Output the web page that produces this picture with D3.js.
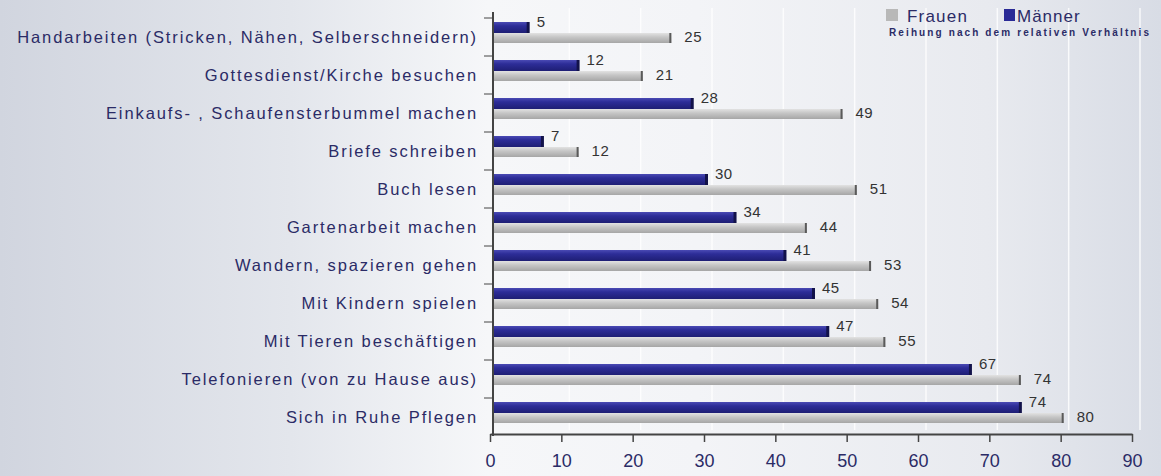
<!DOCTYPE html>
<html><head><meta charset="utf-8">
<script src="https://cdn.jsdelivr.net/npm/d3@7/dist/d3.min.js"></script>
<style>body{margin:0;overflow:hidden;}svg{display:block;}</style>
</head><body>
<script>
const categories = ["Handarbeiten (Stricken, Nähen, Selberschneidern)","Gottesdienst/Kirche besuchen","Einkaufs- , Schaufensterbummel machen","Briefe schreiben","Buch lesen","Gartenarbeit machen","Wandern, spazieren gehen","Mit Kindern spielen","Mit Tieren beschäftigen","Telefonieren (von zu Hause aus)","Sich in Ruhe Pflegen"];
const maenner = [5,12,28,7,30,34,41,45,47,67,74];
const frauen = [25,21,49,12,51,44,53,54,55,74,80];
const xTicks = [0,10,20,30,40,50,60,70,80,90];
const seriesNames = ["Frauen","Männer"];
const subtitle = "Reihung nach dem relativen Verhältnis";

const W=1161,H=476, FONT="Liberation Sans, Arial, sans-serif", TXT="#2b2b66";
const svg=d3.select("body").append("svg").attr("width",W).attr("height",H);
const defs=svg.append("defs");
const bg=defs.append("linearGradient").attr("id","bg").attr("x1","0").attr("x2","1").attr("y1","0").attr("y2","0");
[["0","#d1d5df"],["0.25","#e3e6ec"],["0.42","#f6f7f9"],["0.6","#f3f4f7"],["0.85","#e8eaef"],["1","#d8dce5"]]
 .forEach(s=>bg.append("stop").attr("offset",s[0]).attr("stop-color",s[1]));
svg.append("rect").attr("width",W).attr("height",H).attr("fill","url(#bg)");

const gm=defs.append("linearGradient").attr("id","gm").attr("x1","0").attr("x2","0").attr("y1","0").attr("y2","1");
[["0","#4a4ab4"],["0.35","#2d2d98"],["1","#1e1e74"]].forEach(s=>gm.append("stop").attr("offset",s[0]).attr("stop-color",s[1]));
const gf=defs.append("linearGradient").attr("id","gf").attr("x1","0").attr("x2","0").attr("y1","0").attr("y2","1");
[["0","#e2e2e2"],["0.4","#c6c6c6"],["1","#a6a6a6"]].forEach(s=>gf.append("stop").attr("offset",s[0]).attr("stop-color",s[1]));

const x=d3.scaleLinear().domain([0,90]).range([490,1132]);
const y=d3.scaleBand().domain(categories).range([18,436]);
const depth=3;

// gridlines (3D back wall)
svg.append("g").selectAll("line").data(xTicks.slice(1)).join("line")
 .attr("x1",d=>x(d)+8).attr("x2",d=>x(d)+8).attr("y1",8).attr("y2",430)
 .attr("stroke","#ffffff").attr("stroke-opacity",0.8).attr("stroke-width",1.5);

const rows=svg.append("g").selectAll("g.row").data(categories).join("g").attr("class","row");
// men bars
rows.append("rect").attr("x",x(0)+depth).attr("y",d=>y(d)+4)
 .attr("width",(d,i)=>x(maenner[i])-x(0)).attr("height",11).attr("fill","url(#gm)");
rows.append("rect").attr("x",(d,i)=>x(maenner[i])+depth-2).attr("y",d=>y(d)+4)
 .attr("width",3).attr("height",11).attr("fill","#12124a");
// women bars
rows.append("rect").attr("x",x(0)+depth).attr("y",d=>y(d)+15)
 .attr("width",(d,i)=>x(frauen[i])-x(0)).attr("height",10).attr("fill","url(#gf)");
rows.append("rect").attr("x",(d,i)=>x(frauen[i])+depth-2).attr("y",d=>y(d)+15)
 .attr("width",2).attr("height",10).attr("fill","#5a5a5a");
// value labels
rows.append("text").attr("x",(d,i)=>x(maenner[i])+depth+8).attr("y",d=>y(d)+9)
 .text((d,i)=>maenner[i]).attr("font-family",FONT).attr("font-size",15).attr("letter-spacing",0.5).attr("fill","#333");
rows.append("text").attr("x",(d,i)=>x(frauen[i])+depth+13).attr("y",d=>y(d)+24)
 .text((d,i)=>frauen[i]).attr("font-family",FONT).attr("font-size",15).attr("letter-spacing",0.5).attr("fill","#333");

// y axis
const yAx=svg.append("g").attr("transform","translate(493,0)");
yAx.append("line").attr("x1",0).attr("x2",0).attr("y1",12).attr("y2",436).attr("stroke","#444").attr("stroke-width",2);
yAx.selectAll("line.t").data(categories).join("line").attr("class","t")
 .attr("x1",-9).attr("x2",0).attr("y1",d=>y(d)).attr("y2",d=>y(d)).attr("stroke","#444");
svg.append("g").selectAll("text").data(categories).join("text")
 .attr("x",478).attr("y",d=>y(d)+y.bandwidth()/2+6).attr("text-anchor","end")
 .attr("font-family",FONT).attr("font-size",16.5).attr("letter-spacing",1.9).attr("fill",TXT).text(d=>d);

// x axis
const xAx=svg.append("g").attr("transform","translate(0,434)")
 .call(d3.axisBottom(x).tickValues(xTicks).tickSize(8).tickPadding(12).tickSizeOuter(0));
xAx.select(".domain").attr("stroke","#444").attr("stroke-width",2);
xAx.selectAll(".tick line").attr("stroke","#444").attr("stroke-width",1.5);
xAx.selectAll("text").attr("font-family",FONT).attr("font-size",18).attr("fill",TXT);

// legend
const lg=svg.append("g");
lg.append("rect").attr("x",886).attr("y",9).attr("width",12).attr("height",12).attr("fill","#b8b8b8");
lg.append("text").attr("x",907).attr("y",22).text(seriesNames[0]).attr("font-family",FONT).attr("font-size",17).attr("letter-spacing",1.2).attr("fill",TXT);
lg.append("rect").attr("x",1004).attr("y",9).attr("width",11).attr("height",12).attr("fill","#2a2a96");
lg.append("text").attr("x",1017).attr("y",22).text(seriesNames[1]).attr("font-family",FONT).attr("font-size",17).attr("letter-spacing",1).attr("fill",TXT);
lg.append("text").attr("x",889).attr("y",36).text(subtitle).attr("font-family",FONT).attr("font-size",10).attr("font-weight","bold").attr("fill",TXT).attr("textLength",260);
</script>
</body></html>
